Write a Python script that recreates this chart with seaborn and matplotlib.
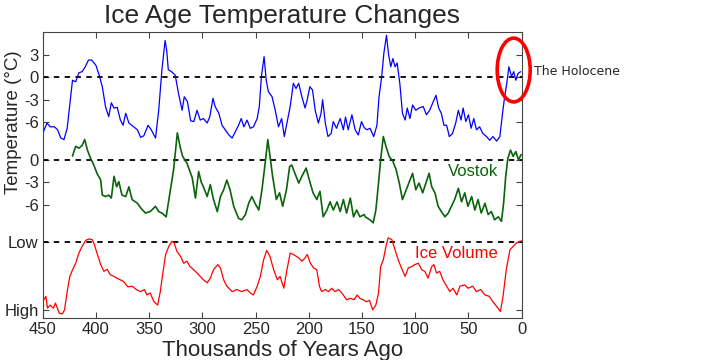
import matplotlib
matplotlib.use("Agg")
import matplotlib.pyplot as plt
from matplotlib.patches import Ellipse
import seaborn as sns

# ---- data (age in thousands of years ago) ----
# Antarctic temperature (blue), deg C relative to present
blue_age = [450, 446, 443, 439, 436, 433, 430, 427, 424, 422, 419, 416, 413, 410, 407, 404, 400, 397, 394, 391,
            388, 385.5, 383, 380, 377, 374.5, 372, 369, 364.5, 361, 358, 355, 351, 348, 344, 341, 338, 335, 333.5,
            332, 329, 325.5, 322.5, 319, 317, 314, 311, 308, 305, 302, 299, 295.5, 293, 290, 288, 284.5, 281.5,
            278.5, 275, 272, 269, 266, 263.5, 261, 258, 255, 252, 248.5, 246.5, 244.5, 242, 240, 238, 234.5, 231.5,
            228.5, 225.5, 223, 220, 217.5, 214.5, 212, 209.5, 206.5, 203.5, 201.5, 199, 196.5, 194, 191, 188.5,
            187, 184.5, 182, 179, 177, 174, 170.5, 167.5, 165.5, 163, 159.5, 156.5, 153.5, 150.5, 148, 145.5,
            142.5, 139, 136, 134, 131.5, 129.5, 127, 125, 123, 121, 119, 117, 114.5, 112, 109.5, 107.5, 105, 102.5,
            99.5, 96.5, 92.5, 89.5, 86.5, 83, 80.5, 78, 75.5, 73, 70.5, 68, 65, 62, 59.5, 57, 55, 52.5, 50, 47.5,
            45, 42.5, 39.5, 36.5, 33, 30, 27, 23.5, 20.5, 18, 16, 14, 12, 9.5, 7.5, 5.5, 3.5, 1]
blue_temp = [-7.5, -6.1, -6.6, -6.6, -7.0, -8.1, -8.3, -6.8, -3.0, -0.4, -0.6, 0.6, 0.75, 1.4, 2.3, 2.3, 1.6, 0.3,
             -1.25, -3.9, -5.25, -3.4, -4.1, -4.0, -5.7, -6.4, -4.8, -6.1, -6.6, -7.0, -8.0, -7.8, -6.4, -7.0, -8.1,
             -4.4, 1.0, 4.9, 3.6, 1.0, 0.75, 0.3, -2.1, -4.4, -2.6, -3.25, -5.8, -5.9, -4.4, -5.7, -5.5, -6.1, -5.25,
             -2.8, -3.9, -4.8, -6.4, -7.0, -7.7, -8.1, -7.25, -6.4, -5.5, -6.6, -5.7, -6.8, -6.6, -5.5, -3.9, 0.1,
             2.75, -0.4, -1.9, -2.6, -4.4, -6.6, -5.5, -7.9, -5.7, -3.9, -0.8, -1.5, -0.8, -2.6, -4.1, -3.0, -1.25,
             -1.7, -4.4, -6.1, -4.8, -3.0, -6.1, -7.9, -7.5, -5.9, -6.8, -5.5, -7.0, -5.3, -7.0, -5.0, -7.0, -7.7,
             -5.9, -6.7, -7.0, -6.8, -7.9, -6.4, -2.6, 0.1, 3.2, 5.6, 3.0, 1.4, 2.5, 1.4, 1.9, -0.8, -4.8, -5.7,
             -4.1, -5.5, -3.7, -4.4, -4.1, -3.9, -5.0, -4.4, -3.25, -2.4, -4.1, -4.8, -6.4, -6.4, -7.9, -7.5, -6.1,
             -4.4, -5.7, -4.1, -5.9, -5.0, -6.8, -5.5, -7.0, -6.6, -7.5, -7.9, -8.4, -7.9, -8.5, -7.9, -4.8, -2.6,
             -0.8, 1.4, 0.1, 0.75, -0.4, 0.5, 0.75]

# Vostok temperature (green), deg C relative to present
vostok_age = [422, 419, 416, 413, 410.5, 408, 405, 402, 399, 395.5, 394, 391, 388, 385.5, 383, 380.5, 378.5, 375.5,
              372, 369, 366, 361, 358, 353.5, 349, 344, 341, 338, 334, 330, 327, 323.5, 321, 318.5, 314.5, 309.5,
              306.5, 303.5, 301, 299, 295.5, 292.5, 289.5, 286, 283, 280, 277, 274, 270.5, 266, 263, 259.5, 256.5,
              253.5, 250.5, 247, 244, 241, 238.5, 236, 234, 230.5, 227.5, 224.5, 221, 218, 216, 213, 209.5, 206.5,
              202.5, 199.5, 196, 192.5, 189.5, 186.5, 183, 180, 177, 173.5, 170.5, 167.5, 164.5, 161, 158, 155, 152,
              148, 147, 142.5, 139.5, 137, 134.5, 132.5, 130, 127.5, 124.5, 121, 118, 115, 112, 108.5, 105.5, 102.5,
              99.5, 96.5, 93, 90, 87, 84.5, 81.5, 78.5, 75.5, 72, 69, 66, 63, 59.5, 56.5, 53.5, 50.5, 47, 44, 41, 38,
              34.5, 31.5, 28.5, 25.5, 22, 19, 17, 15, 13, 10.5, 8, 5.5, 3, 0.5]
vostok_temp = [0.5, 1.8, 1.55, 1.9, 2.7, 1.3, 0.2, -0.7, -1.8, -2.7, -4.7, -4.9, -4.7, -5.1, -2.2, -3.6, -2.9, -4.7,
               -4.9, -3.6, -5.3, -5.8, -6.4, -7.1, -6.9, -6.2, -6.9, -7.1, -7.6, -4.0, -1.3, 3.6, 1.8, 0.45, -0.45,
               -2.4, -5.1, -1.55, -3.0, -3.6, -4.9, -3.3, -5.3, -6.9, -4.9, -4.0, -2.7, -4.0, -6.2, -7.8, -8.0, -7.3,
               -5.8, -4.9, -5.8, -6.7, -4.0, -0.45, 2.7, 0.0, -2.2, -5.3, -4.4, -6.2, -4.0, -0.9, -0.7, -1.8, -3.1,
               -2.2, -1.1, -2.7, -4.4, -5.3, -4.2, -7.6, -6.7, -5.6, -6.7, -5.6, -6.9, -5.3, -7.1, -5.1, -7.6, -6.7,
               -7.6, -7.3, -7.6, -8.0, -8.4, -6.7, -3.1, 0.0, 3.1, 1.8, 0.45, -0.2, -1.3, -3.1, -5.3, -4.0, -2.9,
               -1.8, -4.0, -3.1, -4.4, -3.1, -1.8, -3.6, -4.4, -6.2, -6.9, -7.6, -7.1, -6.2, -5.3, -3.8, -5.6, -4.4,
               -6.2, -4.9, -6.7, -5.3, -7.1, -5.8, -7.3, -6.9, -8.0, -7.6, -8.2, -5.8, -2.2, 0.2, 1.3, 0.45, 1.1,
               0.0, 0.7]

# Global ice volume (red), 0 = Low, 1 = High
ice_age = [450, 447, 445.5, 443, 440, 438, 434.5, 431.5, 429.5, 427, 424.5, 422, 419, 416, 413, 409.5, 406.5, 403.5,
           401.5, 399, 395.5, 392.5, 389.5, 386.5, 383, 378.5, 374, 370, 366, 362, 358, 354.5, 352, 349, 345.5, 342,
           339.5, 338, 334.5, 331.5, 328.5, 326.5, 324, 320.5, 317.5, 314.5, 311.5, 306.5, 303.5, 299, 295.5, 292.5,
           289.5, 285.5, 283, 280, 277, 272, 267.5, 263, 258, 255, 252, 248.5, 245.5, 242.5, 239.5, 236.5, 233,
           229.5, 227, 223.5, 220.5, 217.5, 214.5, 209.5, 206.5, 203.5, 201.5, 198.5, 195.5, 192.5, 190, 188,
           184.5, 181.5, 178.5, 175.5, 172, 169, 164.5, 161, 157.5, 154.5, 152, 149, 146, 143, 140, 137, 134.5,
           132.5, 130, 127.5, 125.5, 122, 119, 116, 113, 109.5, 106.5, 103.5, 100.5, 97, 94, 91, 88, 84.5, 82.5,
           80, 77, 74, 70.5, 67.5, 64.5, 61, 58, 53.5, 50.5, 46, 42.5, 38.5, 34.5, 30.5, 27, 23.5, 20, 17.5, 14.5,
           11, 8, 5, 2, 0]
ice_volume = [0.88, 0.80, 0.975, 0.93, 0.975, 0.90, 1.05, 1.06, 1.0, 0.73, 0.505, 0.41, 0.31, 0.16, 0.06, -0.03,
              -0.05, -0.04, 0.03, 0.16, 0.33, 0.43, 0.40, 0.48, 0.505, 0.545, 0.58, 0.66, 0.65, 0.70, 0.73, 0.70,
              0.78, 0.75, 0.88, 0.93, 0.73, 0.55, 0.18, 0.06, -0.015, 0.01, 0.13, 0.21, 0.31, 0.28, 0.36, 0.43,
              0.48, 0.555, 0.60, 0.53, 0.405, 0.33, 0.38, 0.555, 0.65, 0.73, 0.70, 0.73, 0.70, 0.75, 0.78, 0.65,
              0.505, 0.26, 0.12, 0.21, 0.405, 0.555, 0.505, 0.68, 0.405, 0.16, 0.18, 0.23, 0.28, 0.23, 0.18, 0.31,
              0.38, 0.405, 0.65, 0.73, 0.70, 0.73, 0.68, 0.73, 0.70, 0.75, 0.85, 0.83, 0.85, 0.78, 0.83, 0.85, 0.88,
              0.86, 1.0, 0.93, 0.75, 0.36, 0.26, 0.06, -0.065, -0.04, 0.11, 0.26, 0.38, 0.505, 0.38, 0.36, 0.33,
              0.31, 0.405, 0.43, 0.53, 0.36, 0.33, 0.455, 0.43, 0.555, 0.65, 0.73, 0.68, 0.78, 0.65, 0.63, 0.68,
              0.65, 0.73, 0.70, 0.78, 0.80, 0.88, 0.95, 1.025, 0.80, 0.405, 0.11, 0.06, 0.01, -0.015, -0.02]

x_ticks = [450, 400, 350, 300, 250, 200, 150, 100, 50, 0]
temp_ticks = [3, 0, -3, -6]
vostok_ticks = [0, -3, -6]

# vertical stacking of the three panels on one axis
VOSTOK_SHIFT = -11
ICE_LOW = -22
ICE_SPAN = 9

vostok_plot = [t + VOSTOK_SHIFT for t in vostok_temp]
ice_plot = [ICE_LOW - ICE_SPAN * v for v in ice_volume]

sns.set_style("ticks")
plt.rcParams['font.family'] = ['Liberation Sans', 'DejaVu Sans']

fig = plt.figure(figsize=(7.01, 3.6), dpi=100)
ax = fig.add_axes([0.0609, 0.1158, 0.6833, 0.7962])

# zero / reference dashed lines
for y0 in [0, VOSTOK_SHIFT, ICE_LOW]:
    ax.axhline(y0, color='black', lw=1.3, ls=(0, (3, 3)), zorder=1)

sns.lineplot(x=blue_age, y=blue_temp, ax=ax, color='#0000ff', lw=0.9, sort=False, estimator=None)
sns.lineplot(x=vostok_age, y=vostok_plot, ax=ax, color='#0a640a', lw=1.2, sort=False, estimator=None)
sns.lineplot(x=ice_age, y=ice_plot, ax=ax, color='#ff0000', lw=0.9, sort=False, estimator=None)

ax.set_xlim(450, 0)
ax.set_ylim(-32.13, 6.08)

yt = temp_ticks + [v + VOSTOK_SHIFT for v in vostok_ticks] + [ICE_LOW, ICE_LOW - ICE_SPAN]
yl = [str(v) for v in temp_ticks] + [str(v) for v in vostok_ticks] + ['Low', 'High']
ax.set_yticks(yt)
ax.set_yticklabels(yl)
ax.set_xticks(x_ticks)
ax.set_xticklabels([str(v) for v in x_ticks])

ax.tick_params(direction='in', length=4, width=0.8, color='#444444', top=True, right=True,
               labelsize=12, pad=3)
for s in ax.spines.values():
    s.set_visible(True)
    s.set_color('#444444')
    s.set_linewidth(0.8)

ax.set_xlabel('Thousands of Years Ago', fontsize=16, labelpad=2)
fig.text(13 / 701, 1 - 122 / 360, 'Temperature (°C)', rotation=90, ha='center', va='center', fontsize=13.5)
fig.text(282 / 701, 1 - 16 / 360, 'Ice Age Temperature Changes', ha='center', va='center', fontsize=19)

ax.text(22.5, 0 + VOSTOK_SHIFT - 1.5, 'Vostok', color='#0a640a', fontsize=12, ha='right', va='center')
ax.text(22.5, ICE_LOW - 1.45, 'Ice Volume', color='#ff0000', fontsize=12, ha='right', va='center')

# highlight of the Holocene
ax.add_patch(Ellipse((7.5, 0.97), 31, 8.5, fill=False, ec='#ff0000', lw=2.6, clip_on=False, zorder=5))
ax.text(-12, 0.75, 'The Holocene', fontsize=9, family='DejaVu Sans', ha='left', va='center', clip_on=False)

fig.savefig('out.png', dpi=100)
